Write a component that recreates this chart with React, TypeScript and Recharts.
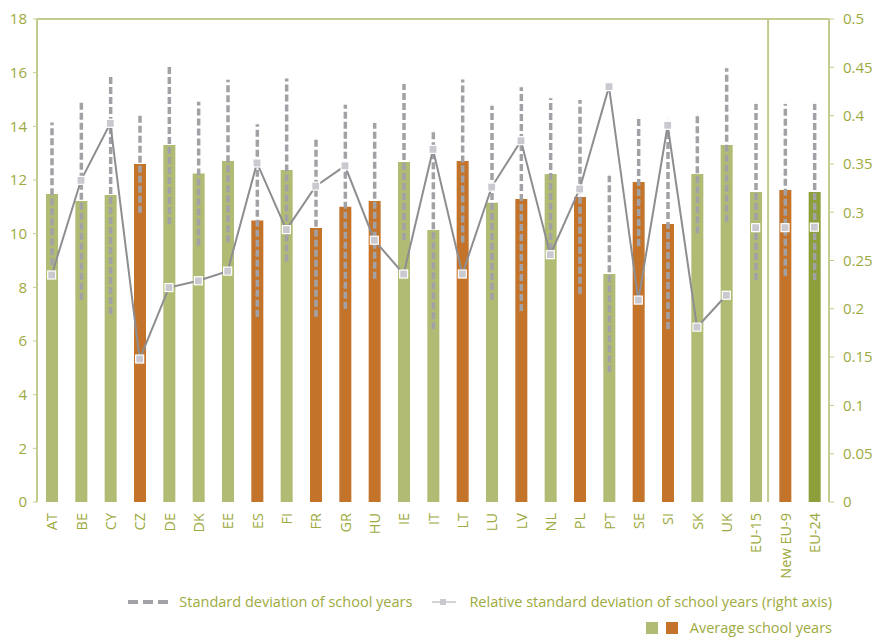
import {
  ComposedChart,
  Bar,
  Cell,
  ErrorBar,
  Line,
  XAxis,
  YAxis,
  ReferenceLine,
} from 'recharts'

const categories = [
  'AT', 'BE', 'CY', 'CZ', 'DE', 'DK', 'EE', 'ES', 'FI', 'FR', 'GR', 'HU', 'IE', 'IT',
  'LT', 'LU', 'LV', 'NL', 'PL', 'PT', 'SE', 'SI', 'SK', 'UK', 'EU-15', 'New EU-9', 'EU-24',
]

// average school years (left axis)
const avgYears = [
  11.48, 11.22, 11.44, 12.6, 13.3, 12.24, 12.71, 10.49, 12.37, 10.21, 11.0, 11.22, 12.67, 10.14,
  12.71, 11.15, 11.29, 12.22, 11.37, 8.5, 11.93, 10.36, 12.22, 13.3, 11.55, 11.63, 11.55,
]

// standard deviation of school years (drawn as +/- around the mean)
const stdDev = [
  2.66, 3.68, 4.43, 1.82, 2.94, 2.68, 3.03, 3.59, 3.41, 3.31, 3.8, 2.9, 2.91, 3.7,
  3.04, 3.62, 4.17, 2.83, 3.61, 3.66, 2.39, 3.91, 2.2, 2.86, 3.28, 3.2, 3.28,
]

// relative standard deviation (right axis), countries AT..UK
const rsdCountries = [
  0.235, 0.333, 0.392, 0.148, 0.222, 0.229, 0.239, 0.351, 0.282, 0.327, 0.348, 0.271, 0.236,
  0.365, 0.236, 0.326, 0.374, 0.256, 0.324, 0.43, 0.209, 0.39, 0.181, 0.214,
]
// EU-15, New EU-9, EU-24
const rsdAggregates = [0.284, 0.284, 0.2845]

const orangeCategories = ['CZ', 'ES', 'FR', 'GR', 'HU', 'LT', 'LV', 'PL', 'SE', 'SI', 'New EU-9']
const totalCategory = 'EU-24'

const leftTicks = [0, 2, 4, 6, 8, 10, 12, 14, 16, 18]
const rightTicks = [0, 0.05, 0.1, 0.15, 0.2, 0.25, 0.3, 0.35, 0.4, 0.45, 0.5]

const GREEN = '#B2BB73'
const ORANGE = '#C4742A'
const DARK_GREEN = '#8C9F3A'
const TEXT = '#9DAA40'
const AXIS = '#C5CB8C'
const DASH = '#A2A2A6'

const data = categories.map((name, i) => ({
  name,
  avg: avgYears[i],
  sd: stdDev[i],
  rsd: i < rsdCountries.length ? rsdCountries[i] : null,
  rsdAgg: i >= rsdCountries.length ? rsdAggregates[i - rsdCountries.length] : null,
}))

const boundaryTicks = [...categories.map((_, i) => i), categories.length]

function barColor(name: string) {
  if (name === totalCategory) return DARK_GREEN
  return orangeCategories.includes(name) ? ORANGE : GREEN
}

const SquareDot = (props: any) => {
  const { cx, cy, index } = props
  if (cx == null || cy == null || isNaN(cy)) return <g key={`d${index}`} />
  return (
    <rect
      key={`d${index}`}
      x={cx - 4}
      y={cy - 4}
      width={8}
      height={8}
      fill="#C9C9CF"
      stroke="#fff"
      strokeWidth={1.2}
    />
  )
}

const CategoryTick = ({ x, y, payload }: any) => (
  <text
    x={x}
    y={y}
    transform={`rotate(-90, ${x}, ${y})`}
    textAnchor="end"
    dominantBaseline="central"
    fill={TEXT}
    fontSize={14.5}
  >
    {payload.value}
  </text>
)

const fmtRight = (v: number) => (v === 0 ? '0' : String(parseFloat(v.toFixed(2))))

export default function App() {
  const legendText = { color: TEXT, fontSize: 14.5, whiteSpace: 'nowrap' as const }
  return (
    <div
      style={{
        position: 'absolute',
        left: 0,
        top: 0,
        width: 875,
        height: 641,
        background: '#fff',
        fontFamily: '"Open Sans", "Noto Sans", sans-serif',
      }}
    >
      <ComposedChart
        width={875}
        height={590}
        data={data}
        margin={{ top: 19, right: 0, bottom: 8, left: 0 }}
        style={{ fontFamily: '"Open Sans", "Noto Sans", sans-serif' }}
      >
        <XAxis
          xAxisId="grid"
          type="number"
          domain={[0, categories.length]}
          ticks={boundaryTicks}
          allowDataOverflow
          height={0}
          tickSize={5}
          tickFormatter={() => ''}
          stroke="#AEB764"
          axisLine={{ stroke: '#AEB764', strokeWidth: 2 }}
        />
        <XAxis
          xAxisId="cat"
          dataKey="name"
          interval={0}
          height={80}
          axisLine={false}
          tickLine={false}
          tickSize={0}
          tickMargin={11}
          tick={<CategoryTick />}
        />
        <YAxis
          yAxisId="left"
          domain={[0, 18]}
          ticks={leftTicks}
          width={37}
          tickSize={4}
          tickMargin={6}
          stroke={AXIS}
          axisLine={{ stroke: AXIS, strokeWidth: 2 }}
          tick={{ fill: TEXT, fontSize: 15 }}
        />
        <YAxis
          yAxisId="right"
          orientation="right"
          domain={[0, 0.5]}
          ticks={rightTicks}
          tickFormatter={fmtRight}
          width={46}
          tickSize={5}
          tickMargin={9}
          stroke={AXIS}
          axisLine={{ stroke: AXIS, strokeWidth: 2 }}
          tick={{ fill: TEXT, fontSize: 15, textAnchor: 'start' }}
        />
        <ReferenceLine yAxisId="left" xAxisId="cat" y={18} stroke={AXIS} strokeWidth={2} />
        <ReferenceLine
          xAxisId="grid"
          yAxisId="left"
          x={rsdCountries.length}
          stroke={AXIS}
          strokeWidth={2}
        />
        <Bar
          xAxisId="cat"
          yAxisId="left"
          dataKey="avg"
          barSize={12}
          isAnimationActive={false}
        >
          {data.map((d) => (
            <Cell key={d.name} fill={barColor(d.name)} />
          ))}
          <ErrorBar
            dataKey="sd"
            direction="y"
            width={0}
            stroke={DASH}
            strokeWidth={3.5}
            strokeDasharray="7 3"
            isAnimationActive={false}
          />
        </Bar>
        <Line
          xAxisId="cat"
          yAxisId="right"
          dataKey="rsd"
          stroke="#8E8E92"
          strokeWidth={2}
          dot={SquareDot}
          activeDot={false}
          isAnimationActive={false}
        />
        <Line
          xAxisId="cat"
          yAxisId="right"
          dataKey="rsdAgg"
          stroke="none"
          dot={SquareDot}
          activeDot={false}
          isAnimationActive={false}
        />
      </ComposedChart>

      <div
        style={{
          position: 'absolute',
          top: 592,
          right: 43,
          display: 'flex',
          alignItems: 'center',
          ...legendText,
        }}
      >
        <svg width={40} height={8} style={{ marginRight: 11 }}>
          <line x1={0} y1={4} x2={40} y2={4} stroke={DASH} strokeWidth={4} strokeDasharray="10 5" />
        </svg>
        <span>Standard deviation of school years</span>
        <svg width={24} height={8} style={{ marginLeft: 20, marginRight: 13 }}>
          <line x1={0} y1={4} x2={24} y2={4} stroke="#B8B8BC" strokeWidth={1.2} />
          <rect x={8} y={1} width={6} height={6} fill="#C9C9CF" />
        </svg>
        <span>Relative standard deviation of school years (right axis)</span>
      </div>
      <div
        style={{
          position: 'absolute',
          top: 618,
          right: 43,
          display: 'flex',
          alignItems: 'center',
          ...legendText,
        }}
      >
        <span style={{ width: 12, height: 12, background: GREEN, marginRight: 8 }} />
        <span style={{ width: 12, height: 12, background: ORANGE, marginRight: 12 }} />
        <span>Average school years</span>
      </div>
    </div>
  )
}
